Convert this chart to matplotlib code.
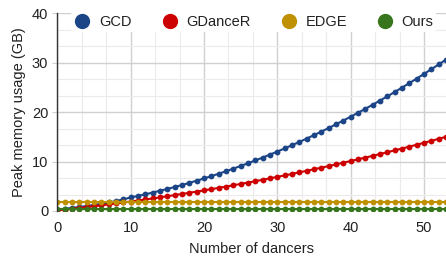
import matplotlib.pyplot as plt
from matplotlib.lines import Line2D
from matplotlib.ticker import MultipleLocator

plt.rcParams['font.family'] = ['Liberation Sans', 'DejaVu Sans']

dancers = list(range(54))
gcd = [0.30, 0.45, 0.62, 0.80, 1.00, 1.22, 1.46, 1.72, 2.00, 2.36,
       2.74, 3.05, 3.38, 3.73, 4.09, 4.46, 4.85, 5.26, 5.69, 6.13,
       6.58, 7.05, 7.54, 8.05, 8.57, 9.11, 9.66, 10.23, 10.81, 11.41,
       12.03, 12.66, 13.31, 13.97, 14.65, 15.35, 16.06, 16.79, 17.54, 18.30,
       19.08, 19.87, 20.68, 21.50, 22.34, 23.20, 24.07, 24.96, 25.87, 26.79,
       27.73, 28.68, 29.65, 30.63]
gdancer = [0.14, 0.30, 0.46, 0.62, 0.79, 0.97, 1.15, 1.34, 1.52, 1.72,
           1.92, 2.12, 2.33, 2.54, 2.76, 2.99, 3.21, 3.45, 3.68, 3.93,
           4.17, 4.42, 4.68, 4.94, 5.20, 5.48, 5.75, 6.03, 6.32, 6.61,
           6.90, 7.20, 7.51, 7.82, 8.13, 8.45, 8.77, 9.09, 9.43, 9.77,
           10.11, 10.45, 10.81, 11.16, 11.52, 11.89, 12.27, 12.64, 13.02, 13.41,
           13.80, 14.19, 14.60, 15.01]
edge = [1.75] * 54
ours = [0.4] * 54

labels = ["GCD", "GDanceR", "EDGE", "Ours"]
colors = ["#1c4587", "#cc0000", "#bf9000", "#38761d"]

fig = plt.figure(figsize=(4.46, 2.59), dpi=100)
ax = fig.add_axes([57.3 / 446, 1 - 211 / 259, 1 - 57.3 / 446, (211 - 13.3) / 259])

for ys, c in zip([gcd, gdancer, edge, ours], colors):
    ax.plot(dancers, ys, color=c, lw=1.5, marker="o", ms=4.2, mew=0, clip_on=True)

ax.set_xlim(0, 53)
ax.set_ylim(0, 40)
ax.xaxis.set_major_locator(MultipleLocator(10))
ax.xaxis.set_minor_locator(MultipleLocator(10 / 3))
ax.yaxis.set_major_locator(MultipleLocator(10))
ax.yaxis.set_minor_locator(MultipleLocator(10 / 3))
ax.grid(which="major", color="#d0d0d0", lw=1.0)
ax.grid(which="minor", color="#ebebeb", lw=0.8)
ax.set_axisbelow(True)

for s in ["top", "right", "bottom"]:
    ax.spines[s].set_visible(False)
ax.spines["left"].set_color("#333333")
ax.spines["left"].set_linewidth(1.0)

ax.tick_params(axis="x", which="both", length=0, pad=7, labelsize=10.5, labelcolor="#222222")
ax.tick_params(axis="y", which="major", length=3.5, color="#d0d0d0", pad=3, labelsize=10.5, labelcolor="#222222")
ax.tick_params(axis="y", which="minor", length=0)

ax.set_xlabel("Number of dancers", fontsize=10.5, color="#222222", labelpad=5)
ax.set_ylabel("Peak memory usage (GB)", fontsize=10.5, color="#222222", labelpad=4)

handles = [Line2D([], [], ls="none", marker="o", ms=11, color=c, mew=0) for c in colors]
leg = ax.legend(handles, labels, ncol=4, loc="center", bbox_to_anchor=(0.505, 0.955),
                frameon=True, fontsize=10.5, handletextpad=0.55, columnspacing=2.0,
                borderpad=0.2, handlelength=1.2)
leg.get_frame().set_facecolor("white")
leg.get_frame().set_edgecolor("none")
leg.get_frame().set_alpha(1)
for t in leg.get_texts():
    t.set_color("#222222")

fig.savefig("out.png", dpi=100)
